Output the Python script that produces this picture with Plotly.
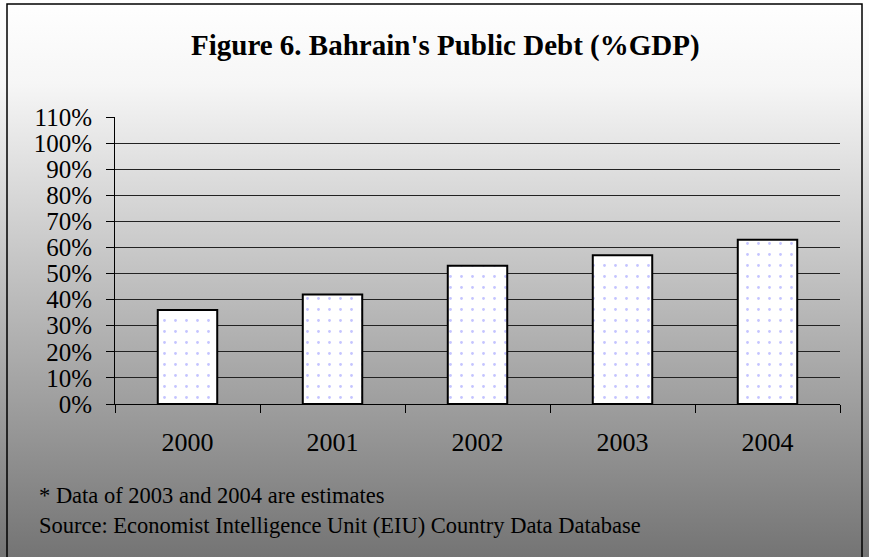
import base64
import plotly.graph_objects as go

years = ["2000", "2001", "2002", "2003", "2004"]
debt = [0.36, 0.42, 0.53, 0.57, 0.63]
title_text = "Figure 6. Bahrain's Public Debt (%GDP)"
note1 = "* Data of 2003 and 2004 are estimates"
note2 = "Source: Economist Intelligence Unit (EIU) Country Data Database"

svg = ('<svg xmlns="http://www.w3.org/2000/svg" width="100" height="100" preserveAspectRatio="none">'
       '<defs><linearGradient id="g" x1="0" y1="0" x2="0" y2="1">'
       '<stop offset="0" stop-color="#ffffff"/><stop offset="0.15" stop-color="#f6f6f6"/>'
       '<stop offset="1" stop-color="#747474"/></linearGradient></defs>'
       '<rect width="100" height="100" fill="url(#g)"/></svg>')
bg_uri = "data:image/svg+xml;base64," + base64.b64encode(svg.encode()).decode()

FONT = "Liberation Serif"
PW, PH, L, T = 725, 287, 115, 117

fig = go.Figure()
fig.add_trace(go.Bar(
    x=years, y=debt, width=0.41,
    marker=dict(color="white",
                line=dict(color="black", width=2),
                pattern=dict(shape=".", fgcolor="#8a8aff", bgcolor="white",
                             size=11, solidity=0.05)),
    hoverinfo="skip",
))

fig.update_layout(
    width=869, height=557,
    margin=dict(l=L, r=29, t=T, b=153),
    paper_bgcolor="rgba(0,0,0,0)",
    plot_bgcolor="#c0c0c0",
    showlegend=False,
    font=dict(family=FONT, color="black", size=25),
    images=[dict(source=bg_uri, xref="paper", yref="paper", x=-L / PW, y=1 + T / PH,
                 sizex=869 / PW, sizey=557 / PH, sizing="stretch", layer="below",
                 xanchor="left", yanchor="top")],
    shapes=[dict(type="rect", xref="paper", yref="paper",
                 x0=(7 - L) / PW, x1=(862 - L) / PW, y0=-(565 - 404) / PH, y1=1 + (T - 4) / PH,
                 line=dict(color="black", width=1.5), fillcolor="rgba(0,0,0,0)", layer="above")],
    annotations=[
        dict(text="<b>" + title_text + "</b>", xref="paper", yref="paper",
             x=(445 - L) / PW, y=1 + (T - 45) / PH, xanchor="center", yanchor="middle",
             showarrow=False, font=dict(family=FONT, size=29, color="black")),
        dict(text=note1, xref="paper", yref="paper",
             x=(37 - L) / PW, y=-(495 - 404) / PH, xanchor="left", yanchor="middle",
             showarrow=False, font=dict(family=FONT, size=22.5, color="black")),
        dict(text=note2, xref="paper", yref="paper",
             x=(37 - L) / PW, y=-(525 - 404) / PH, xanchor="left", yanchor="middle",
             showarrow=False, font=dict(family=FONT, size=22.5, color="black")),
    ],
)

fig.update_xaxes(type="category", showline=True, linecolor="black", linewidth=1,
                 ticks="outside", tickson="boundaries", ticklen=8, tickcolor="black",
                 ticklabelstandoff=15,
                 tickfont=dict(family=FONT, size=26), showgrid=False, mirror=False)
fig.update_yaxes(range=[0, 1.1], dtick=0.1, tickformat=".0%", showline=True,
                 linecolor="black", linewidth=1, ticks="outside", ticklen=8,
                 ticklabelstandoff=9,
                 tickcolor="black", showgrid=True, gridcolor="#222222", gridwidth=1,
                 tickfont=dict(family=FONT, size=25), zeroline=False)

fig.write_html("out.html")
